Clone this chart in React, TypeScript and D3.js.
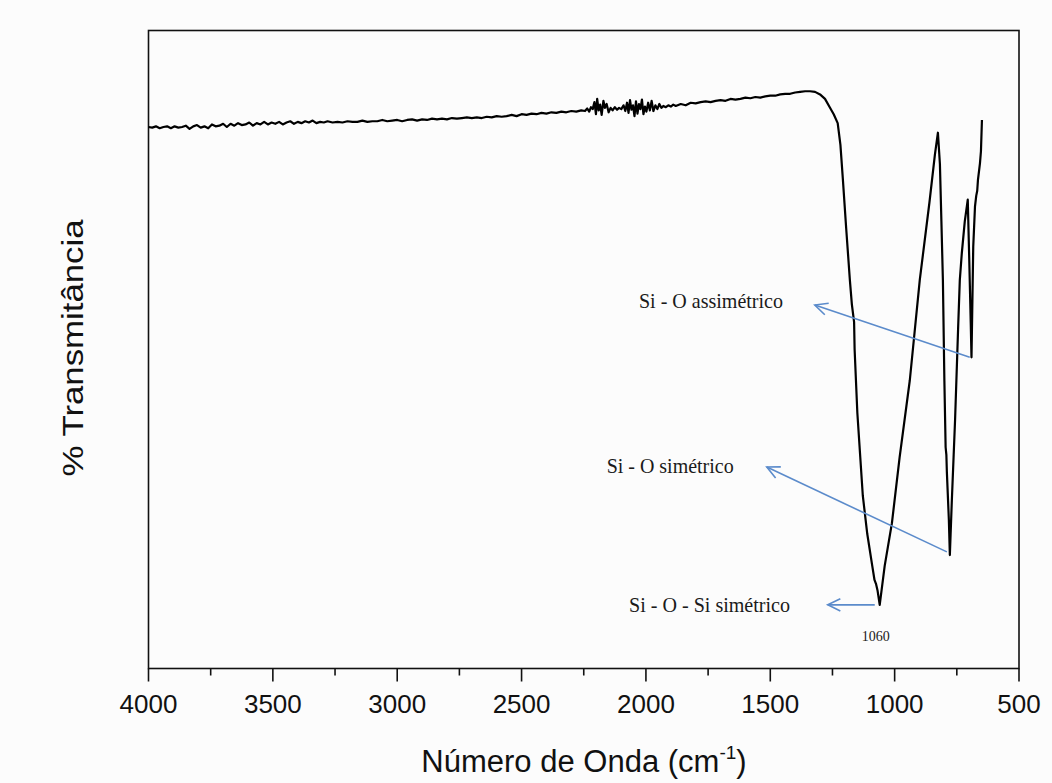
import React from "react";
import * as d3 from "d3";

// Spectrum: [wavenumber cm^-1, % transmittance]
const baseline: [number, number][] = [
  [4000, 84.8], [3985, 84.7], [3970, 84.9], [3955, 84.6], [3940, 84.8], [3925, 84.9], [3910, 84.6],
  [3895, 84.9], [3880, 84.7], [3865, 84.8], [3850, 85.0], [3835, 84.5], [3820, 84.9], [3805, 85.1],
  [3790, 84.7], [3775, 84.9], [3760, 84.6], [3745, 85.2], [3730, 84.9], [3715, 85.0], [3700, 85.3],
  [3685, 84.8], [3670, 85.3], [3655, 85.0], [3640, 85.4], [3625, 85.1], [3610, 85.2], [3595, 85.5],
  [3580, 85.0], [3565, 85.4], [3550, 85.2], [3535, 85.6], [3520, 85.2], [3505, 85.5], [3490, 85.3],
  [3475, 85.6], [3460, 85.2], [3445, 85.5], [3430, 85.7], [3415, 85.3], [3400, 85.6], [3385, 85.4],
  [3370, 85.7], [3355, 85.5], [3340, 85.8], [3325, 85.4], [3310, 85.6], [3295, 85.5], [3280, 85.7],
  [3260, 85.5], [3240, 85.6], [3220, 85.5], [3200, 85.7], [3180, 85.6], [3160, 85.6], [3140, 85.8],
  [3120, 85.6], [3100, 85.7], [3080, 85.7], [3060, 85.9], [3040, 85.7], [3020, 85.8], [3000, 85.9],
  [2980, 85.7], [2960, 85.9], [2940, 86.0], [2920, 85.8], [2900, 86.0], [2880, 85.9], [2860, 86.1],
  [2840, 86.0], [2820, 86.1], [2800, 86.0], [2780, 86.2], [2760, 86.1], [2740, 86.2], [2720, 86.3],
  [2700, 86.2], [2680, 86.3], [2660, 86.2], [2640, 86.4], [2620, 86.3], [2600, 86.5], [2580, 86.4],
  [2560, 86.5], [2540, 86.7], [2520, 86.5], [2500, 86.8], [2480, 86.7], [2460, 86.9], [2440, 86.8],
  [2420, 87.0], [2400, 86.9], [2380, 87.1], [2360, 87.0], [2340, 87.2], [2320, 87.1], [2300, 87.3],
  [2280, 87.2], [2260, 87.4],
];

const noisyRegion: [number, number][] = [
  [2245, 87.3], [2236, 87.7], [2228, 87.2], [2221, 87.9], [2214, 87.6], [2207, 88.7], [2201, 86.8],
  [2196, 89.2], [2190, 87.4], [2184, 88.3], [2178, 86.7], [2171, 88.9], [2165, 87.8], [2158, 88.4],
  [2150, 87.1], [2142, 87.8], [2134, 87.4], [2125, 87.9], [2116, 87.5], [2108, 87.8], [2099, 87.6],
  [2090, 88.2], [2083, 87.3], [2076, 88.6], [2070, 87.0], [2064, 89.0], [2058, 87.5], [2052, 88.2],
  [2046, 86.5], [2040, 88.8], [2034, 86.9], [2028, 88.4], [2022, 87.6], [2016, 89.1], [2010, 86.8],
  [2004, 88.0], [1998, 87.2], [1991, 88.6], [1984, 87.4], [1977, 88.9], [1970, 87.3], [1962, 88.2],
  [1954, 87.6], [1946, 88.4], [1938, 87.8], [1930, 88.1], [1920, 87.9], [1910, 88.2], [1900, 88.0],
  [1890, 88.3], [1880, 88.1],
];

const plateau: [number, number][] = [
  [1860, 88.4], [1840, 88.2], [1820, 88.6], [1800, 88.5], [1780, 88.7], [1760, 88.8], [1740, 88.7],
  [1720, 88.9], [1700, 89.0], [1680, 88.9], [1660, 89.2], [1640, 89.1], [1620, 89.2], [1600, 89.4],
  [1580, 89.3], [1560, 89.5], [1540, 89.4], [1520, 89.6], [1500, 89.7], [1480, 89.7], [1460, 89.9],
  [1440, 90.0], [1420, 90.0], [1400, 90.2], [1380, 90.3], [1360, 90.4], [1340, 90.4], [1320, 90.3],
  [1300, 89.9], [1280, 89.2],
];

const bands: [number, number][] = [
  [1261, 87.9], [1245, 86.8], [1229, 85.4], [1218, 82.0], [1208, 76.5], [1195, 69.0], [1180, 60.8],
  [1172, 57.0], [1163, 54.2], [1161, 50.0], [1150, 40.0], [1128, 27.0], [1110, 21.0], [1090, 16.0],
  [1081, 13.8], [1075, 13.2], [1069, 12.2], [1060, 9.9], [1040, 16.0], [1011, 22.7], [980, 33.0],
  [939, 45.1], [899, 60.8], [860, 73.0], [838, 80.5], [826, 83.9], [818, 79.0], [812, 70.0],
  [806, 60.8], [800, 45.0], [795, 34.6], [792, 33.4], [790, 30.7], [782, 23.2], [778, 17.7],
  [770, 26.3], [757, 38.9], [745, 53.0], [738, 60.8], [730, 65.0], [718, 70.0], [706, 73.4],
  [700, 64.0], [694, 54.0], [691, 48.7], [688, 56.0], [684, 66.0], [677, 72.3], [672, 74.0],
  [668, 74.8], [665, 76.5], [657, 79.1], [653, 81.0], [649, 85.9],
];

const spectrum = [...baseline, ...noisyRegion, ...plateau, ...bands];

const xTicks = [4000, 3500, 3000, 2500, 2000, 1500, 1000, 500];
const xMinorTicks = [3750, 3250, 2750, 2250, 1750, 1250, 750];

// Annotations: text anchor [wn, T], arrow tail [wn, T] -> arrow tip [wn, T]
const annotLabels = ["Si - O assimétrico", "Si - O simétrico", "Si - O - Si  simétrico"];
const annotTextPos: [number, number][] = [[2028, 57.6], [2158, 31.6], [2068, 9.9]];
const annotTextLen = [144, 127, 161];
const arrowTail: [number, number][] = [[698, 48.7], [790, 18.2], [1080, 9.9]];
const arrowTip: [number, number][] = [[1321, 56.9], [1514, 31.5], [1269, 9.9]];
const peakLabel = { text: "1060", wn: 1076, t: 5.0 };

const W = 1052;
const H = 783;
const plot = { left: 148.5, right: 1019, top: 30.5, bottom: 668.5 };

export default function App() {
  const x = d3.scaleLinear().domain([4000, 500]).range([plot.left, plot.right]);
  const y = d3.scaleLinear().domain([0, 100]).range([668, 30]);
  const line = d3
    .line<[number, number]>()
    .x((d) => x(d[0]))
    .y((d) => y(d[1]));

  const arrowColor = "#5b8bcb";
  const sans = "Arial, 'Liberation Sans', sans-serif";
  const serif = "'Times New Roman', 'Liberation Serif', serif";

  const arrowHead = (tail: [number, number], tip: [number, number]) => {
    const x1 = x(tail[0]), y1 = y(tail[1]);
    const x2 = x(tip[0]), y2 = y(tip[1]);
    const ang = Math.atan2(y1 - y2, x1 - x2);
    const len = 14;
    const spread = 0.45;
    const a = [x2 + len * Math.cos(ang + spread), y2 + len * Math.sin(ang + spread)];
    const b = [x2 + len * Math.cos(ang - spread), y2 + len * Math.sin(ang - spread)];
    return `M${a[0]},${a[1]}L${x2},${y2}L${b[0]},${b[1]}`;
  };

  return (
    <svg
      width={W}
      height={H}
      style={{ position: "absolute", left: 0, top: 0, background: "#fcfcfc" }}
    >
      <rect x={0} y={0} width={W} height={H} fill="#fcfcfc" />
      {/* frame */}
      <rect
        x={plot.left}
        y={plot.top}
        width={plot.right - plot.left}
        height={plot.bottom - plot.top}
        fill="none"
        stroke="#111"
        strokeWidth={1.6}
      />
      {/* ticks */}
      {xTicks.map((t) => (
        <g key={t}>
          <line x1={x(t)} x2={x(t)} y1={plot.bottom} y2={plot.bottom + 13} stroke="#111" strokeWidth={1.6} />
          <text
            x={x(t)}
            y={713}
            textAnchor="middle"
            fontFamily={sans}
            fontSize={26}
            fill="#111"
          >
            {t}
          </text>
        </g>
      ))}
      {xMinorTicks.map((t) => (
        <line key={t} x1={x(t)} x2={x(t)} y1={plot.bottom} y2={plot.bottom + 7} stroke="#111" strokeWidth={1.6} />
      ))}
      {/* axis titles */}
      <text x={584} y={772} textAnchor="middle" fontFamily={sans} fontSize={31} fill="#111">
        Número de Onda (cm
        <tspan fontSize={19} dy={-13}>-1</tspan>
        <tspan dy={13}>)</tspan>
      </text>
      <text
        transform={`translate(83,348) rotate(-90)`}
        textAnchor="middle"
        fontFamily={sans}
        fontSize={30}
        fill="#111"
        textLength={257}
        lengthAdjust="spacingAndGlyphs"
      >
        % Transmitância
      </text>
      {/* spectrum */}
      <path d={line(spectrum) || ""} fill="none" stroke="#000" strokeWidth={2.2} strokeLinejoin="round" />
      {/* annotations */}
      {annotLabels.map((lab, i) => (
        <g key={lab}>
          <line
            x1={x(arrowTail[i][0])}
            y1={y(arrowTail[i][1])}
            x2={x(arrowTip[i][0])}
            y2={y(arrowTip[i][1])}
            stroke={arrowColor}
            strokeWidth={1.6}
          />
          <path d={arrowHead(arrowTail[i], arrowTip[i])} fill="none" stroke={arrowColor} strokeWidth={1.6} />
          <text
            x={x(annotTextPos[i][0])}
            y={y(annotTextPos[i][1]) + 7}
            fontFamily={serif}
            fontSize={21}
            fill="#1a1a1a"
            textLength={annotTextLen[i]}
            lengthAdjust="spacingAndGlyphs"
          >
            {lab}
          </text>
        </g>
      ))}
      <text
        x={x(peakLabel.wn)}
        y={y(peakLabel.t) + 5}
        textAnchor="middle"
        fontFamily={serif}
        fontSize={14}
        fill="#1a1a1a"
      >
        {peakLabel.text}
      </text>
    </svg>
  );
}
